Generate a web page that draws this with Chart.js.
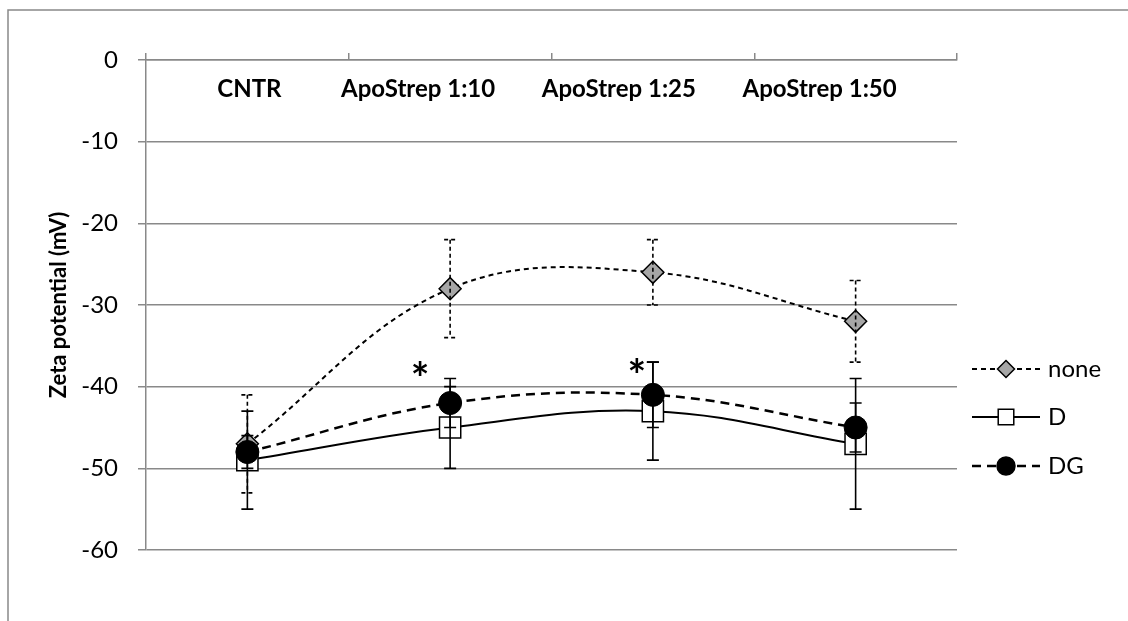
<!DOCTYPE html>
<html>
<head>
<meta charset="utf-8">
<script src="https://cdn.jsdelivr.net/npm/chart.js@4.4.1/dist/chart.umd.min.js"></script>
<style>
  html, body { margin: 0; padding: 0; background: #fff; }
</style>
</head>
<body>
<canvas id="myChart" width="1128" height="621"></canvas>
<script>
// ---- data ----
const categories = ["CNTR", "ApoStrep 1:10", "ApoStrep 1:25", "ApoStrep 1:50"];
const seriesNames = ["none", "D", "DG"];
const noneValues = [-47, -28, -26, -32];
const noneErrors = [6, 6, 4, 5];
const dValues = [-49, -45, -43, -47];
const dErrors = [6, 5, 6, 8];
const dgValues = [-48, -42, -41, -45];
const dgErrors = [2, 3, 4, 3];
const yTicks = [0, -10, -20, -30, -40, -50, -60];
const starCategories = [1, 2]; // significance marks

const FONT = "Lato, 'Open Sans', sans-serif";
const GRID = "#898989";

function drawMarker(ctx, style, x, y, r, fill) {
  ctx.save();
  ctx.beginPath();
  if (style === "rectRot") {
    ctx.moveTo(x, y - r); ctx.lineTo(x + r, y); ctx.lineTo(x, y + r); ctx.lineTo(x - r, y); ctx.closePath();
  } else if (style === "rect") {
    const s = r * Math.SQRT1_2;
    ctx.rect(x - s, y - s, 2 * s, 2 * s);
  } else {
    ctx.arc(x, y, r, 0, Math.PI * 2);
  }
  ctx.fillStyle = fill;
  ctx.fill();
  ctx.setLineDash([]);
  ctx.lineWidth = 1.5;
  ctx.strokeStyle = "#000";
  ctx.stroke();
  ctx.restore();
}

//------------PLUGINS-------------//
// outer frame of the chart object
const frame = {
  id: "frame",
  beforeDraw(chart) {
    const ctx = chart.ctx;
    ctx.save();
    ctx.strokeStyle = GRID;
    ctx.lineWidth = 1.5;
    ctx.strokeRect(8, 10, 1300, 800);
    ctx.restore();
  }
};

// vertical error bars, drawn right after their own series
const errorBars = {
  id: "errorBars",
  afterDatasetDraw(chart, args) {
    const ds = chart.data.datasets[args.index];
    const { ctx, scales: { x, y } } = chart;
    ctx.save();
    ctx.strokeStyle = "#000";
    ctx.lineWidth = 1.6;
    ctx.setLineDash(ds.errorDash);
    ds.errors.forEach((e, i) => {
      const px = x.getPixelForValue(i);
      const top = y.getPixelForValue(ds.data[i] + e);
      const bot = y.getPixelForValue(ds.data[i] - e);
      ctx.beginPath();
      ctx.moveTo(px, top); ctx.lineTo(px, bot);
      ctx.moveTo(px - 6, top); ctx.lineTo(px + 6, top);
      ctx.moveTo(px - 6, bot); ctx.lineTo(px + 6, bot);
      ctx.stroke();
    });
    ctx.restore();
  }
};

// category names sit inside the plot under the top axis
const labelShift = [2, -32, -34, -36];
const categoryLabels = {
  id: "categoryLabels",
  afterDraw(chart) {
    const { ctx, scales: { x, y } } = chart;
    ctx.save();
    ctx.font = "bold 24px " + FONT;
    ctx.fillStyle = "#000";
    ctx.textAlign = "center";
    ctx.textBaseline = "middle";
    categories.forEach((c, i) => {
      ctx.fillText(c, x.getPixelForValue(i) + labelShift[i], 89);
    });
    // asterisks
    ctx.font = "bold 44px " + FONT;
    const starShift = [-30, -16];
    const starValue = [-37.3, -37];
    starCategories.forEach((c, k) => {
      ctx.fillText("*", x.getPixelForValue(c) + starShift[k], y.getPixelForValue(starValue[k]) + 15);
    });
    ctx.restore();
  }
};

// legend: line sample with marker in the middle
const sideLegend = {
  id: "sideLegend",
  afterDraw(chart) {
    const ctx = chart.ctx;
    const rows = [369, 417, 466];
    const sizes = [8.5, 11, 9];
    ctx.save();
    chart.data.datasets.forEach((ds, i) => {
      const yy = rows[i];
      ctx.beginPath();
      ctx.setLineDash(ds.borderDash || []);
      ctx.lineWidth = ds.borderWidth;
      ctx.strokeStyle = "#000";
      ctx.moveTo(972, yy); ctx.lineTo(1040, yy);
      ctx.stroke();
      drawMarker(ctx, ds.pointStyle, 1006, yy, sizes[i], ds.pointBackgroundColor);
      ctx.setLineDash([]);
      ctx.font = "24px " + FONT;
      ctx.fillStyle = "#000";
      ctx.textBaseline = "middle";
      ctx.fillText(ds.label, 1048, yy);
    });
    ctx.restore();
  }
};

const data = {
  labels: categories,
  datasets: [
    {
      label: seriesNames[0],
      data: noneValues,
      errors: noneErrors,
      errorDash: [4, 3],
      borderColor: "#000",
      borderWidth: 2,
      borderDash: [5, 4],
      pointStyle: "rectRot",
      pointRadius: 11,
      pointBackgroundColor: "#a6a6a6",
      pointBorderColor: "#000",
      pointBorderWidth: 1.5,
      tension: 0.38,
      order: 2
    },
    {
      label: seriesNames[1],
      data: dValues,
      errors: dErrors,
      errorDash: [],
      borderColor: "#000",
      borderWidth: 2,
      borderDash: [],
      pointStyle: "rect",
      pointRadius: 15,
      pointBackgroundColor: "#fff",
      pointBorderColor: "#000",
      pointBorderWidth: 1.5,
      tension: 0.38,
      order: 1
    },
    {
      label: seriesNames[2],
      data: dgValues,
      errors: dgErrors,
      errorDash: [],
      borderColor: "#000",
      borderWidth: 2.5,
      borderDash: [9, 6],
      pointStyle: "circle",
      pointRadius: 11.5,
      pointBackgroundColor: "#000",
      pointBorderColor: "#000",
      pointBorderWidth: 1,
      tension: 0.38,
      order: 0
    }
  ]
};

const config = {
  type: "line",
  data,
  options: {
    responsive: false,
    animation: false,
    events: [],
    layout: { padding: { left: 0, top: 0, right: 171, bottom: 71 } },
    scales: {
      x: {
        position: "top",
        offset: true,
        ticks: { display: false },
        grid: { offset: true, drawOnChartArea: false, drawTicks: true, tickLength: 7, color: GRID, lineWidth: 1.5 },
        border: { display: true, color: GRID, width: 1.5 },
        afterFit(scale) { scale.height = 60; }
      },
      y: {
        min: -60,
        max: 0,
        afterBuildTicks(scale) { scale.ticks = yTicks.map(v => ({ value: v })); },
        ticks: { font: { family: FONT, size: 24 }, color: "#000", padding: 20 },
        grid: { color: GRID, lineWidth: 1.5, tickLength: 8 },
        border: { display: true, color: GRID, width: 1.5 },
        title: {
          display: true,
          text: "Zeta potential (mV)",
          font: { family: FONT, size: 22, weight: "bold" },
          color: "#000",
          padding: { top: 46, bottom: 0 }
        },
        afterFit(scale) { scale.width = 146; }
      }
    },
    plugins: {
      legend: { display: false },
      tooltip: { enabled: false }
    }
  },
  plugins: [frame, errorBars, categoryLabels, sideLegend]
};

const myChart = new Chart(document.getElementById("myChart"), config);
</script>
</body>
</html>
